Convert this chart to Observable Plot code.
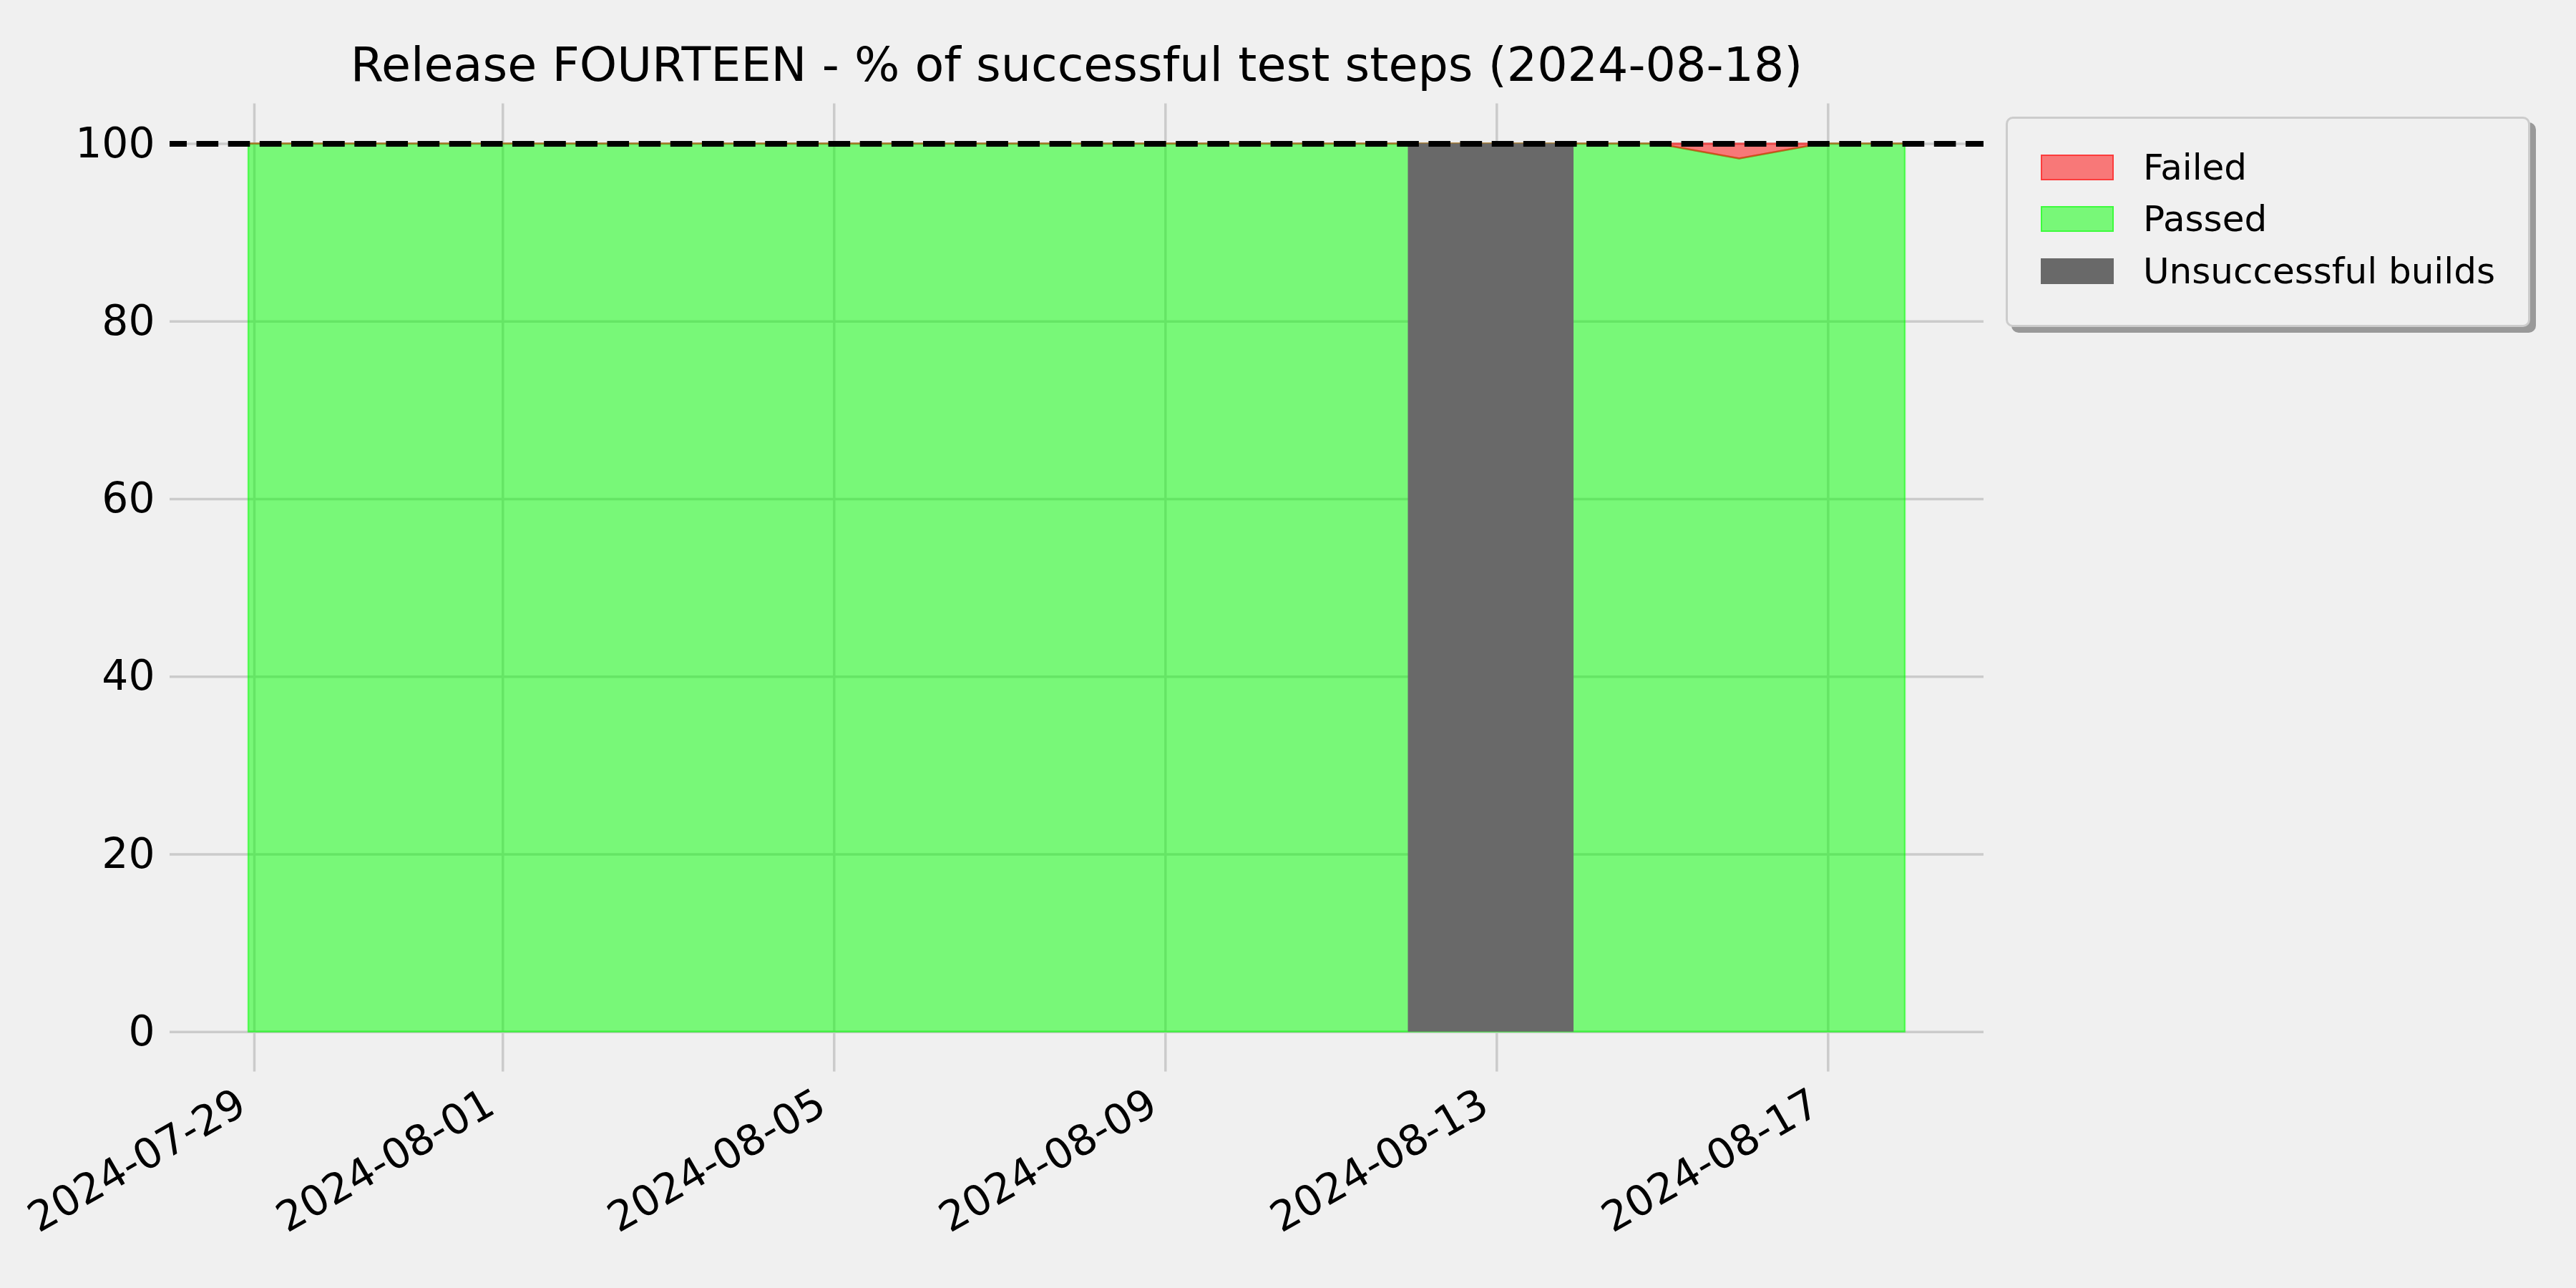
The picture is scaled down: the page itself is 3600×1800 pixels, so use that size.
<!DOCTYPE html>
<html><head><meta charset="utf-8">
<script src="https://cdn.jsdelivr.net/npm/d3@7"></script>
<script src="https://cdn.jsdelivr.net/npm/@observablehq/plot@0.6"></script>
<style>
html,body{margin:0;padding:0;background:#f0f0f0;}
#fig{position:relative;width:3600px;height:1800px;background:#f0f0f0;font-family:"DejaVu Sans",sans-serif;overflow:hidden}
#title{box-sizing:border-box;height:140px;padding-top:57px;padding-left:237px;width:2772px;text-align:center;font-size:66.7px;line-height:66.7px;color:#000;white-space:nowrap}
#chart svg{display:block}
#legend{position:absolute;left:2803px;top:163px;width:733px;height:294px;box-sizing:border-box;border:3px solid #cccccc;border-radius:10px;background:#f0f0f0;box-shadow:8px 8px 0 0 #999999;}
.row{position:absolute;left:46px;height:36px;display:flex;align-items:center;font-size:50px;line-height:50px;white-space:nowrap;color:#000}
.sw{width:102px;height:36px;box-sizing:border-box;margin-right:41px;flex:none}
</style></head>
<body>
<div id="fig">
  <div id="title"></div>
  <div id="chart"></div>
  <div id="legend"></div>
</div>
<script>
// ---- data ----
const titleText = "Release FOURTEEN - % of successful test steps (2024-08-18)";
const runDates = [
  "2024-07-28T22:20","2024-07-29T22:20","2024-07-30T22:20","2024-07-31T22:20",
  "2024-08-01T22:20","2024-08-02T22:20","2024-08-03T22:20","2024-08-04T22:20",
  "2024-08-05T22:20","2024-08-06T22:20","2024-08-07T22:20","2024-08-08T22:20",
  "2024-08-09T22:20","2024-08-10T22:20","2024-08-11T22:20","2024-08-12T22:20",
  "2024-08-13T22:20","2024-08-14T22:20","2024-08-15T22:20","2024-08-16T22:20",
  "2024-08-17T22:20"
];
const passedPct = [100,100,100,100,100,100,100,100,100,100,100,100,100,100,100,100,100,100,98.3,100,100];
const failedPct = [0,0,0,0,0,0,0,0,0,0,0,0,0,0,0,0,0,0,1.7,0,0];
const buildOk   = [true,true,true,true,true,true,true,true,true,true,true,true,true,true,false,false,false,true,true,true,true];
const targetPct = [100];
const yTicks = [0,20,40,60,80,100];
const xTickLabels = ["2024-07-29","2024-08-01","2024-08-05","2024-08-09","2024-08-13","2024-08-17"];
const legendLabels = ["Failed","Passed","Unsuccessful builds"];

// ---- build ----
document.getElementById("title").textContent = titleText;
const rows = runDates.map((d,i)=>({date:new Date(d), passed:passedPct[i], failed:failedPct[i], ok:buildOk[i]}));
const tickDates = xTickLabels.map(s=>new Date(s+"T00:00"));
const t0 = +rows[0].date, t1 = +rows[rows.length-1].date;
const pad = (t1-t0)*0.0475;

const plot = Plot.plot({
  width:3600, height:1660,
  marginTop:4.6, marginBottom:302.5, marginLeft:237, marginRight:828,
  style:{background:"transparent", fontFamily:"DejaVu Sans", color:"#000", overflow:"visible"},
  x:{type:"time", domain:[new Date(t0-pad), new Date(t1+pad)], axis:null},
  y:{domain:[-4.5,104.5]},
  marks:[
    Plot.gridX(tickDates,{stroke:"#cbcbcb", strokeOpacity:1, strokeWidth:3.5}),
    Plot.gridY(yTicks,{stroke:"#cbcbcb", strokeOpacity:1, strokeWidth:3.5}),
    Plot.areaY(rows,{x:"date", y1:0, y2:"passed", fill:"#00ff00", fillOpacity:0.5, stroke:"#00ff00", strokeOpacity:0.5, strokeWidth:2.5}),
    Plot.areaY(rows,{x:"date", y1:"passed", y2:d=>d.passed+d.failed, fill:"#ff0000", fillOpacity:0.5, stroke:"#ff0000", strokeOpacity:0.5, strokeWidth:2.5}),
    Plot.areaY(rows,{x:"date", y1:0, y2:d=>d.ok?NaN:d.passed+d.failed, fill:"#696969"}),
    Plot.ruleY(targetPct,{stroke:"#000", strokeWidth:8, strokeDasharray:"30.6,13.55", strokeDashoffset:6.6}),
    Plot.axisY(yTicks,{tickSize:0, tickPadding:21, fontSize:58.3, tickFormat:d=>String(d), label:null}),
    Plot.text(tickDates,{x:d=>d, text:(d,i)=>xTickLabels[i], frameAnchor:"bottom", rotate:-30, textAnchor:"end", lineAnchor:"bottom", dx:-8, dy:56, fontSize:58.3, fill:"#000"})
  ]
});
document.getElementById("chart").appendChild(plot);

// legend
const legendStyles = [
  {bg:"rgba(255,0,0,0.5)", border:"2px solid rgba(255,0,0,0.5)"},
  {bg:"rgba(0,255,0,0.5)", border:"2px solid rgba(0,255,0,0.5)"},
  {bg:"#696969", border:"none"}
];
const legendTops = [50,122,195];
const leg = document.getElementById("legend");
legendLabels.forEach((lab,i)=>{
  const r = document.createElement("div");
  r.className="row"; r.style.top = legendTops[i]+"px";
  const sw = document.createElement("div");
  sw.className="sw"; sw.style.background=legendStyles[i].bg; sw.style.border=legendStyles[i].border;
  const tx = document.createElement("span"); tx.textContent = lab;
  r.appendChild(sw); r.appendChild(tx); leg.appendChild(r);
});
</script>
</body></html>
